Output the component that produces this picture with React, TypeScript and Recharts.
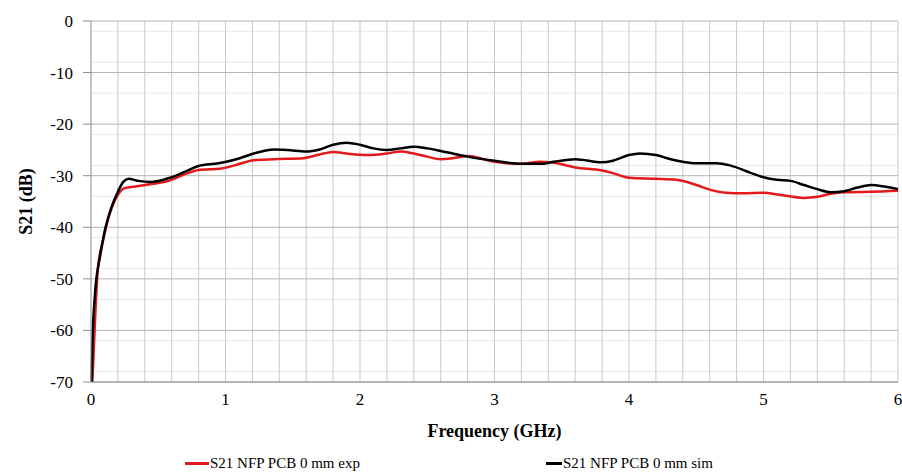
import { LineChart, Line, XAxis, YAxis, CartesianGrid, Label } from 'recharts';

const expFreq = [0.01, 0.03, 0.05, 0.09, 0.14, 0.2, 0.25, 0.33, 0.45, 0.58, 0.7, 0.8, 0.97, 1.08, 1.21, 1.36, 1.58, 1.7, 1.8, 1.9, 2.05, 2.2, 2.3, 2.4, 2.5, 2.6, 2.69, 2.8, 3.0, 3.2, 3.34, 3.44, 3.6, 3.8, 3.88, 4.0, 4.2, 4.35, 4.5, 4.6, 4.72, 4.85, 5.0, 5.12, 5.3, 5.4, 5.5, 5.6, 5.8, 6.0];
const expS21 = [-70, -58, -48.3, -42.5, -37.3, -33.7, -32.4, -32.1, -31.6, -31.0, -29.7, -28.9, -28.6, -27.9, -27.0, -26.8, -26.6, -25.9, -25.4, -25.7, -26.0, -25.7, -25.3, -25.7, -26.3, -26.8, -26.6, -26.2, -27.3, -27.7, -27.3, -27.5, -28.4, -29.0, -29.5, -30.4, -30.6, -30.8, -31.8, -32.7, -33.3, -33.4, -33.3, -33.7, -34.3, -34.1, -33.5, -33.2, -33.1, -32.9];

const simFreq = [0.005, 0.01, 0.03, 0.067, 0.104, 0.154, 0.2, 0.24, 0.28, 0.35, 0.45, 0.55, 0.6, 0.7, 0.8, 0.95, 1.08, 1.21, 1.36, 1.46, 1.6, 1.7, 1.8, 1.9, 2.0, 2.1, 2.2, 2.3, 2.4, 2.5, 2.6, 2.69, 2.8, 3.0, 3.2, 3.34, 3.44, 3.6, 3.8, 3.88, 4.0, 4.08, 4.2, 4.31, 4.4, 4.5, 4.65, 4.75, 4.9, 5.0, 5.1, 5.2, 5.3, 5.4, 5.5, 5.6, 5.7, 5.8, 5.9, 6.0];
const simS21 = [-70, -63, -52.8, -45.7, -40.5, -36, -33.1, -31.2, -30.6, -31.0, -31.2, -30.7, -30.3, -29.2, -28.1, -27.6, -26.8, -25.7, -24.9, -25.0, -25.3, -24.9, -24.0, -23.6, -24.0, -24.7, -25.0, -24.7, -24.4, -24.7, -25.2, -25.7, -26.3, -27.1, -27.7, -27.7, -27.3, -26.8, -27.4, -27.1, -26.0, -25.7, -26.0, -26.8, -27.3, -27.6, -27.6, -28.0, -29.4, -30.3, -30.8, -31.0, -31.8, -32.6, -33.2, -33.0, -32.3, -31.8, -32.1, -32.6];

const xTicks = [0, 1, 2, 3, 4, 5, 6];
const yTicks = [-70, -60, -50, -40, -30, -20, -10, 0];
const xGrid = [0.2, 0.4, 0.6, 0.8, 1, 1.2, 1.4, 1.6, 1.8, 2, 2.2, 2.4, 2.6, 2.8, 3, 3.2, 3.4, 3.6, 3.8, 4, 4.2, 4.4, 4.6, 4.8, 5, 5.2, 5.4, 5.6, 5.8, 6];
const yMinor = [-68, -66, -64, -62, -58, -56, -54, -52, -48, -46, -44, -42, -38, -36, -34, -32, -28, -26, -24, -22, -18, -16, -14, -12, -8, -6, -4, -2];

const expData = expFreq.map((f, i) => ({ f, v: expS21[i] }));
const simData = simFreq.map((f, i) => ({ f, v: simS21[i] }));

const font = '"Liberation Serif", "Times New Roman", serif';

const XTick = ({ x, y, payload }: any) => (
    <text x={x} y={y + 23} textAnchor="middle" fontSize={17} fontFamily={font} fill="#000">{payload.value}</text>
);
const YTick = ({ x, y, payload }: any) => (
    <text x={x - 1} y={y + 6} textAnchor="end" fontSize={17} fontFamily={font} fill="#000">{payload.value}</text>
);

export default function App() {
    return (
        <div style={{ position: 'absolute', left: 0, top: 0, width: 902, height: 476, background: '#fff', fontFamily: font }}>
            <LineChart width={902} height={476} margin={{ top: 21, right: 4, left: 31, bottom: 44 }}>
                <CartesianGrid horizontalValues={yMinor} vertical={false} stroke="#e8e8e8" strokeWidth={1} />
                <CartesianGrid verticalValues={xGrid} horizontal={false} stroke="#c8c8c8" strokeWidth={1} />
                <CartesianGrid horizontalValues={yTicks} vertical={false} stroke="#b4b4b4" strokeWidth={1} />
                <XAxis
                    type="number"
                    dataKey="f"
                    domain={[0, 6]}
                    ticks={xTicks}
                    tick={<XTick />}
                    tickLine={false}
                    tickSize={0}
                    tickMargin={0}
                    axisLine={{ stroke: '#8c8c8c' }}
                    height={50}
                    allowDuplicatedCategory={false}
                >
                    <Label value="Frequency (GHz)" position="insideBottom" offset={-5} style={{ fontSize: 18, fontWeight: 'bold', fill: '#000', fontFamily: font }} />
                </XAxis>
                <YAxis
                    type="number"
                    domain={[-70, 0]}
                    ticks={yTicks}
                    tick={<YTick />}
                    tickLine={{ stroke: '#8c8c8c' }}
                    tickSize={8}
                    tickMargin={9}
                    axisLine={{ stroke: '#8c8c8c' }}
                    width={60}
                >
                    <Label value="S21 (dB)" angle={-90} position="insideLeft" offset={-5} style={{ fontSize: 18, fontWeight: 'bold', fill: '#000', fontFamily: font, textAnchor: 'middle' }} />
                </YAxis>
                <Line data={expData} dataKey="v" type="monotone" stroke="#e3191b" strokeWidth={2.5} dot={false} isAnimationActive={false} />
                <Line data={simData} dataKey="v" type="monotone" stroke="#000" strokeWidth={2.5} dot={false} isAnimationActive={false} />
            </LineChart>
            <div style={{ position: 'absolute', top: 455, left: 0, width: 902, fontSize: 15, color: '#000' }}>
                <div style={{ position: 'absolute', left: 185, top: 0, display: 'flex', alignItems: 'center', whiteSpace: 'nowrap' }}>
                    <span style={{ display: 'inline-block', width: 24, height: 2.5, background: '#e3191b', marginRight: 1 }} />
                    <span>S21 NFP PCB 0 mm exp</span>
                </div>
                <div style={{ position: 'absolute', left: 546, top: 0, display: 'flex', alignItems: 'center', whiteSpace: 'nowrap' }}>
                    <span style={{ display: 'inline-block', width: 16, height: 2.5, background: '#000', marginRight: 1 }} />
                    <span>S21 NFP PCB 0 mm sim</span>
                </div>
            </div>
        </div>
    );
}
